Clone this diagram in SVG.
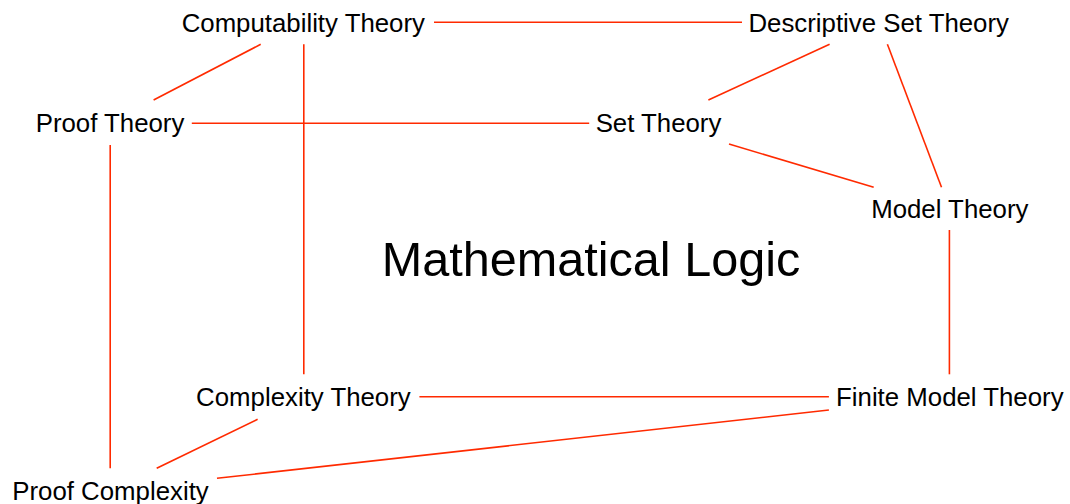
<svg xmlns="http://www.w3.org/2000/svg" width="1070" height="504" viewBox="0 0 1070 504">
<style>
.lbl{font-family:"Liberation Sans",Arial,Helvetica,sans-serif;font-size:25.8px;fill:#000;text-anchor:middle}
.title{font-family:"Liberation Sans",Arial,Helvetica,sans-serif;font-size:48.6px;fill:#000;text-anchor:middle}
.edge{stroke:#ff2a00;stroke-width:1.6;fill:none}
</style>
<rect width="1070" height="504" fill="#fff"/>
<g id="connectors">
<line class="edge" x1="434" y1="22.3" x2="742" y2="22.3"/>
<line class="edge" x1="260.7" y1="44.3" x2="153.6" y2="100"/>
<line class="edge" x1="303.8" y1="44.3" x2="303.8" y2="374.3"/>
<line class="edge" x1="191.8" y1="123.2" x2="589.2" y2="123.2"/>
<line class="edge" x1="110.2" y1="145" x2="110.2" y2="468.3"/>
<line class="edge" x1="829.6" y1="44.3" x2="708.4" y2="100"/>
<line class="edge" x1="887.4" y1="44.3" x2="941.5" y2="187.3"/>
<line class="edge" x1="729" y1="144" x2="873.7" y2="187.3"/>
<line class="edge" x1="949.4" y1="230" x2="949.4" y2="374.3"/>
<line class="edge" x1="419.4" y1="396.7" x2="828.9" y2="396.7"/>
<line class="edge" x1="257.6" y1="419.3" x2="156.7" y2="468.3"/>
<line class="edge" x1="217" y1="478.3" x2="828.9" y2="410"/>
</g>
<g id="title"><text class="title" x="591" y="275.5">Mathematical Logic</text></g>
<g id="computability"><text class="lbl" x="303.3" y="32.3">Computability Theory</text></g>
<g id="descriptive"><text class="lbl" x="878.7" y="32.3">Descriptive Set Theory</text></g>
<g id="proof"><text class="lbl" x="110" y="131.7">Proof Theory</text></g>
<g id="set"><text class="lbl" x="658.5" y="131.7">Set Theory</text></g>
<g id="model"><text class="lbl" x="949.8" y="218.3">Model Theory</text></g>
<g id="complexity"><text class="lbl" x="303.4" y="405.7">Complexity Theory</text></g>
<g id="finite"><text class="lbl" x="949.8" y="405.7">Finite Model Theory</text></g>
<g id="proofcomplexity"><text class="lbl" x="110.5" y="499.5">Proof Complexity</text></g>
</svg>
